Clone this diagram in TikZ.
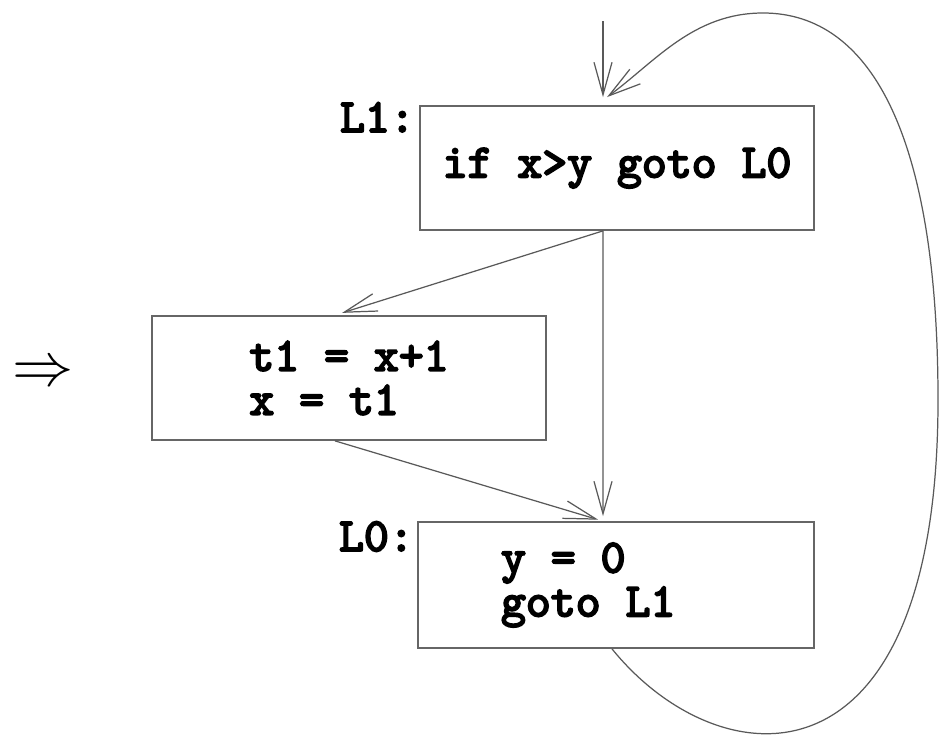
\documentclass[tikz,border=0pt]{standalone}
\usepackage{fontspec}
\setmonofont{lmmono10-regular}[Extension=.otf,BoldFont=lmmono10-regular,
  BoldFeatures={FakeBold=4}]
\usetikzlibrary{arrows.meta}

\begin{document}
\begin{tikzpicture}[
    block/.style={draw=black!60,line width=1pt,minimum width=7.88cm,minimum height=2.48cm,
                  align=left,font=\ttfamily\bfseries\fontsize{27}{25}\selectfont},
    lbl/.style={inner sep=0pt,font=\ttfamily\bfseries\fontsize{27}{25}\selectfont},
    flow/.style={draw=black!65,line width=.7pt,-{Straight Barb[length=6.5mm,width=3.6mm]}}]
  \useasboundingbox (0,0) rectangle (18.8,-14.72);
  %
  \node[scale=1.4] (impl) at (0.86,-7.48) {\Huge$\Rightarrow$};
  % the three basic blocks
  \node[block] (test) at (12.34,-3.36) {if x>y goto L0};
  \node[block] (incr) at (6.98,-7.56) {t1 = x+1\\x = t1};
  \node[block,minimum width=7.92cm,minimum height=2.52cm] (reset) at (12.32,-11.70)
       {\makebox[4.6cm][l]{y = 0}\\goto L1};
  \node[lbl,anchor=north east] (lone) at ([xshift=-0.08cm,yshift=0.06cm]test.north west) {L1:};
  \node[lbl,anchor=north east] (lzero) at ([xshift=-0.06cm]reset.north west) {L0:};
  %
  \coordinate (entry) at (12.06,-0.42);
  \draw[flow,shorten >=0.16cm] (entry) -- ([xshift=-0.28cm]test.north);
  \draw[flow,shorten >=0.15cm] ([xshift=-0.28cm]test.south) -- ([xshift=-0.28cm]incr.north);
  \draw[flow,shorten >=0.1cm] ([xshift=-0.28cm]test.south) -- ([xshift=-0.26cm]reset.north);
  \draw[flow,shorten >=0.1cm] ([xshift=-0.28cm]incr.south) -- ([xshift=-0.26cm]reset.north);
  % back edge round the right side
  \draw[flow] ([xshift=-0.08cm]reset.south)
        .. controls (14.38,-15.62) and (18.76,-16.0) .. (18.76,-8.0)
        .. controls (18.76,-2.8) and (17.46,-0.26) .. (15.26,-0.26)
        .. controls (13.86,-0.26) and (13.1,-1.24) .. ([xshift=-0.2cm,yshift=0.16cm]test.north);
\end{tikzpicture}
\end{document}
